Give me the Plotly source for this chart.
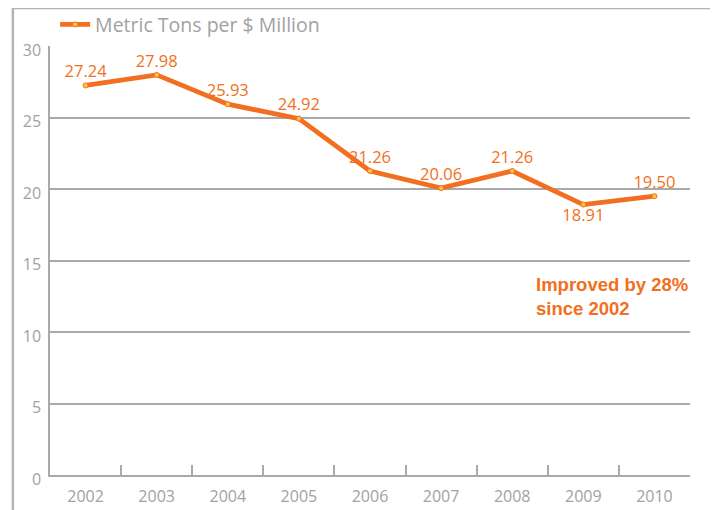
import plotly.graph_objects as go

years = ["2002", "2003", "2004", "2005", "2006", "2007", "2008", "2009", "2010"]
values = [27.24, 27.98, 25.93, 24.92, 21.26, 20.06, 21.26, 18.91, 19.50]
labels = ["27.24", "27.98", "25.93", "24.92", "21.26", "20.06", "21.26", "18.91", "19.50"]
label_pos = ["top center"] * 7 + ["bottom center", "top center"]
series_name = "Metric Tons per $ Million"
note = "Improved by 28%<br>since 2002"

ORANGE = "#F26F21"
GRAY = "#A7A9AC"
TXT = "#A0A2A5"
FONT = "Open Sans"

fig = go.Figure()
fig.add_trace(go.Scatter(
    x=years, y=values, mode="lines+markers+text",
    name=series_name,
    text=labels, textposition=label_pos,
    textfont=dict(family=FONT, size=16.5, color=ORANGE),
    line=dict(color=ORANGE, width=4.8),
    marker=dict(size=5, color="#F9C646", line=dict(color=ORANGE, width=1)),
    cliponaxis=False,
))

fig.update_layout(
    width=710, height=502,
    margin=dict(l=42, r=28, t=38, b=35, autoexpand=False),
    paper_bgcolor="white", plot_bgcolor="white",
    font=dict(family=FONT, color=TXT),
    showlegend=True,
    legend=dict(x=0.008, y=1.095, xanchor="left", yanchor="top",
                font=dict(family=FONT, size=19.5, color=TXT),
                bgcolor="rgba(0,0,0,0)", itemwidth=30,
                tracegroupgap=0),
    xaxis=dict(type="category", tickson="boundaries", ticks="inside",
               ticklen=10, tickcolor=GRAY, tickwidth=1.5,
               showline=True, linecolor=GRAY, linewidth=2,
               showgrid=False, tickfont=dict(size=16, color=TXT),
               ticklabelstandoff=6, range=[-0.5, 8.5]),
    yaxis=dict(range=[0, 30], dtick=5, showline=True, linecolor=GRAY,
               linewidth=1.5, showgrid=True, gridcolor=GRAY, gridwidth=1.5,
               zeroline=False, ticks="", tickfont=dict(size=16, color=TXT),
               ticklabelstandoff=4, ticklabelshift=4),
    annotations=[dict(text=note, xref="paper", yref="paper",
                      x=0.756, y=0.415, xanchor="left", yanchor="middle",
                      align="left", showarrow=False,
                      font=dict(family="Liberation Sans", size=18.5,
                                color=ORANGE, weight="bold"))],
    shapes=[dict(type="rect", xref="paper", yref="paper",
                 x0=-0.058, x1=1.038, y0=-0.3, y1=1.0886,
                 line=dict(color="#B3B3B3", width=2.5), layer="below")],
)

fig.write_html("out.html")
